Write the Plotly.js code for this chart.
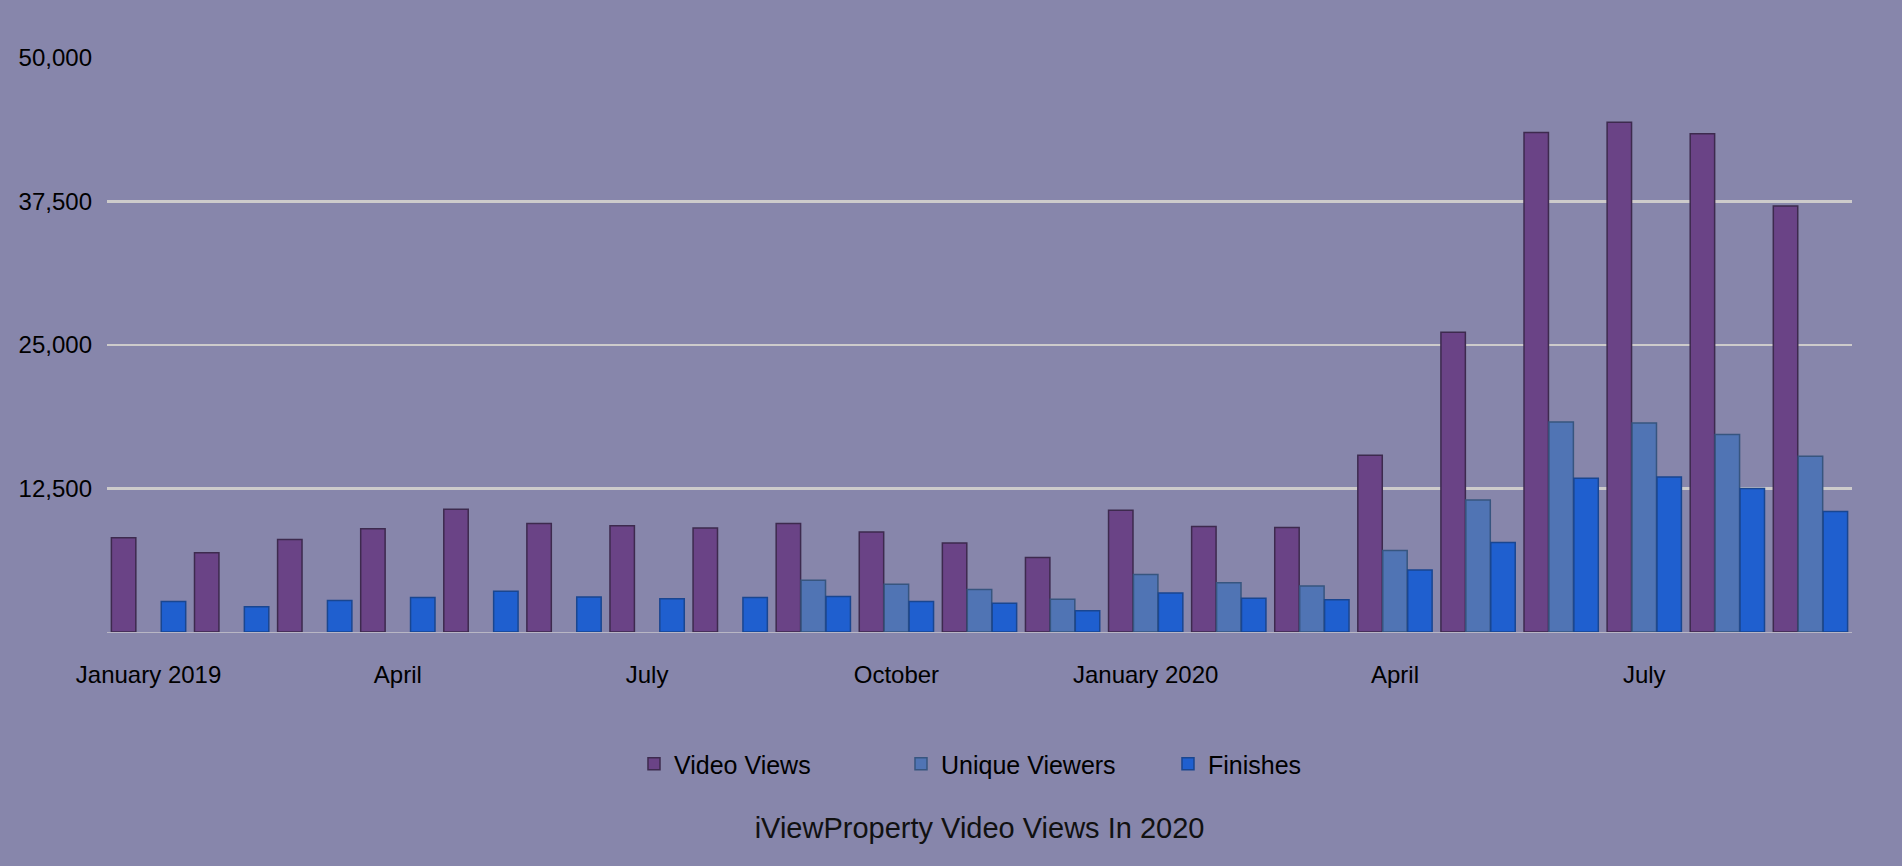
<!DOCTYPE html>
<html>
<head>
<meta charset="utf-8">
<script src="https://cdn.plot.ly/plotly-3.0.1.min.js"></script>
<style>
  html, body { margin: 0; padding: 0; background: #8786ab; }
  #chart { width: 1902px; height: 866px; }
</style>
</head>
<body>
<div id="chart"></div>
<script>
// Months (Jan 2019 – Sep 2020)
const months = ["2019-01","2019-02","2019-03","2019-04","2019-05","2019-06","2019-07","2019-08","2019-09","2019-10","2019-11","2019-12",
                "2020-01","2020-02","2020-03","2020-04","2020-05","2020-06","2020-07","2020-08","2020-09"];
const tickMonths = ["2019-01","2019-04","2019-07","2019-10","2020-01","2020-04","2020-07"];
const tickLabels = ["January 2019","April","July","October","January 2020","April","July"];

const videoViews = [8200, 6900, 8050, 9000, 10700, 9450, 9250, 9050, 9450, 8700, 7750, 6500,
                    10600, 9200, 9100, 15400, 26100, 43500, 44400, 43400, 37100];
const uniqueViewers = [null, null, null, null, null, null, null, null, 4500, 4150, 3700, 2850,
                       5000, 4300, 4000, 7100, 11500, 18300, 18200, 17200, 15300];
const finishes = [2650, 2200, 2750, 3000, 3550, 3050, 2900, 3000, 3100, 2650, 2500, 1850,
                  3400, 2950, 2800, 5400, 7800, 13400, 13500, 12500, 10500];

const yTicks = [12500, 25000, 37500, 50000];
const seriesNames = ["Video Views", "Unique Viewers", "Finishes"];

const FONT = "'Liberation Sans', Arial, Helvetica, sans-serif";

const traces = [
  { name: seriesNames[0], y: videoViews, color: "#6a4386", line: "#3d2a4e" },
  { name: seriesNames[1], y: uniqueViewers, color: "#5074b4", line: "#37557f" },
  { name: seriesNames[2], y: finishes, color: "#1f5fcf", line: "#1a4690" }
].map(s => ({
  type: "bar",
  name: s.name,
  x: months,
  y: s.y,
  marker: { color: s.color, line: { color: s.line, width: 1.5 } },
  hoverinfo: "x+y+name"
}));

const layout = {
  width: 1902,
  height: 866,
  paper_bgcolor: "#8786ab",
  plot_bgcolor: "#8786ab",
  font: { family: FONT, color: "#000000", size: 24 },
  margin: { l: 107, r: 50, t: 58, b: 234 },
  barmode: "group",
  bargap: 0.1,
  bargroupgap: 0.02,
  showlegend: true,
  legend: {
    orientation: "h",
    x: 0.302, xanchor: "left",
    y: -0.23, yanchor: "middle",
    font: { family: FONT, size: 25, color: "#000" },
    bgcolor: "rgba(0,0,0,0)",
    entrywidth: 222,
    entrywidthmode: "pixels",
    itemwidth: 30
  },
  title: {
    text: "iViewProperty Video Views In 2020",
    font: { family: FONT, size: 29, color: "#111" },
    x: 0.515, xanchor: "center",
    y: 0.044, yref: "container", yanchor: "middle"
  },
  xaxis: {
    type: "category",
    categoryorder: "array",
    categoryarray: months,
    tickvals: tickMonths,
    ticktext: tickLabels,
    showgrid: false,
    zeroline: false,
    showline: false,
    ticks: "",
    ticklabelstandoff: 26,
    tickfont: { family: FONT, size: 24, color: "#000" },
    fixedrange: true
  },
  yaxis: {
    range: [0, 50000],
    tickvals: yTicks,
    tickformat: ",d",
    showgrid: true,
    gridcolor: "#cdcbcb",
    gridwidth: 2.5,
    zeroline: true,
    zerolinecolor: "#b8b6c4",
    zerolinewidth: 1,
    showline: false,
    ticks: "",
    ticklabelstandoff: 14,
    tickfont: { family: FONT, size: 24, color: "#000" },
    fixedrange: true
  }
};

Plotly.newPlot("chart", traces, layout, { displayModeBar: false, staticPlot: true });
</script>
</body>
</html>
